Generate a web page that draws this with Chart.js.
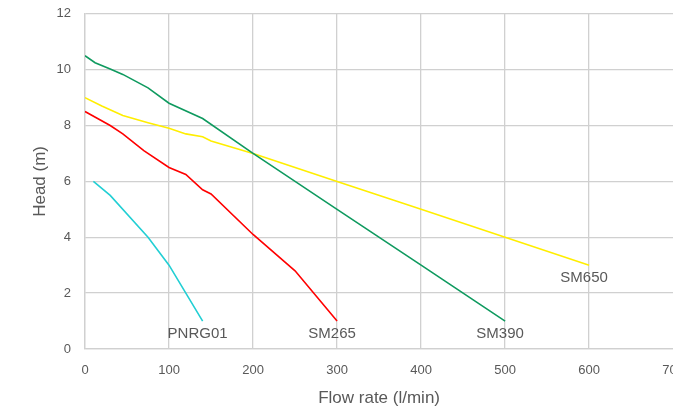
<!DOCTYPE html>
<html>
<head>
<meta charset="utf-8">
<script src="https://cdn.jsdelivr.net/npm/chart.js@4.4.0/dist/chart.umd.min.js"></script>
<style>
  html, body { margin: 0; padding: 0; background: #fff; overflow: hidden; }
  #wrap { width: 698px; height: 417px; margin-top: -8px; }
</style>
</head>
<body>
<div id="wrap"><canvas id="chart"></canvas></div>
<script>
// pump curves, flow (l/min) vs head (m)
const pnrgFlow = [10, 30, 75, 100, 120, 140];
const pnrgHead = [6, 5.5, 4, 3, 2, 1];

const sm265Flow = [0, 15, 30, 45, 70, 100, 120, 140, 150, 200, 250, 300];
const sm265Head = [8.5, 8.25, 8, 7.7, 7.1, 6.5, 6.25, 5.7, 5.55, 4.1, 2.8, 1];

const sm390Flow = [0, 12, 30, 45, 75, 100, 140, 200, 250, 300, 400, 500];
const sm390Head = [10.5, 10.25, 10.02, 9.83, 9.35, 8.8, 8.25, 7, 6, 5, 3, 1];

const sm650Flow = [0, 20, 45, 75, 100, 120, 140, 150, 200, 300, 400, 500, 600];
const sm650Head = [9, 8.7, 8.36, 8.1, 7.9, 7.7, 7.6, 7.45, 7, 6, 5, 4, 3];

const seriesNames = ["PNRG01", "SM265", "SM390", "SM650"];
const seriesColors = ["#22cfd4", "#ff0000", "#0f9a5f", "#ffee00"];

const FONT = '"Liberation Sans", Arial, sans-serif';

function pts(xs, ys) {
    return xs.map((x, i) => ({x: x, y: ys[i]}));
}

const allData = [
    pts(pnrgFlow, pnrgHead),
    pts(sm265Flow, sm265Head),
    pts(sm390Flow, sm390Head),
    pts(sm650Flow, sm650Head)
];

// name under the end of each curve
const endLabels = {
    id: 'endLabels',
    afterDatasetsDraw(chart) {
        const ctx = chart.ctx;
        const xs = chart.scales.x, ys = chart.scales.y;
        ctx.save();
        ctx.font = '15px ' + FONT;
        ctx.fillStyle = '#595959';
        ctx.textAlign = 'center';
        ctx.textBaseline = 'middle';
        chart.data.datasets.forEach(ds => {
            const last = ds.data[ds.data.length - 1];
            ctx.fillText(ds.label, xs.getPixelForValue(last.x) - 5, ys.getPixelForValue(last.y) + 13);
        });
        ctx.restore();
    }
};

window.onload = function(){
    new Chart(document.getElementById("chart"), {
        type: 'line',
        data: {
            datasets: allData.map((d, i) => ({
                label: seriesNames[i],
                data: d,
                borderColor: seriesColors[i],
                borderWidth: 1.6,
                pointRadius: 0,
                fill: false,
                tension: 0
            }))
        },
        options: {
            responsive: true,
            maintainAspectRatio: false,
            animation: false,
            layout: { padding: { top: 0, right: 0, left: 0, bottom: 0 } },
            plugins: { legend: { display: false }, tooltip: { enabled: false } },
            scales: {
                x: {
                    type: 'linear',
                    min: 0, max: 700,
                    ticks: { stepSize: 100, color: '#595959', font: { size: 13, family: FONT }, padding: 14 },
                    grid: { color: '#d0d0d0', lineWidth: 1.3, drawTicks: false },
                    border: { color: '#d0d0d0', width: 1.3 },
                    title: { display: true, text: 'Flow rate (l/min)', color: '#595959', font: { size: 17, family: FONT }, padding: { top: 4, bottom: 0 } },
                    afterFit(scale) { scale.height = 60; }
                },
                y: {
                    min: 0, max: 12,
                    ticks: { stepSize: 2, color: '#595959', font: { size: 13, family: FONT }, padding: 14 },
                    grid: { color: '#d0d0d0', lineWidth: 1.3, drawTicks: false },
                    border: { color: '#d0d0d0', width: 1.3 },
                    title: { display: true, text: 'Head (m)', color: '#595959', font: { size: 17, family: FONT }, padding: { top: 30, bottom: 0 } },
                    afterFit(scale) { scale.width = 85; }
                }
            }
        },
        plugins: [endLabels]
    });
}
</script>
</body>
</html>
